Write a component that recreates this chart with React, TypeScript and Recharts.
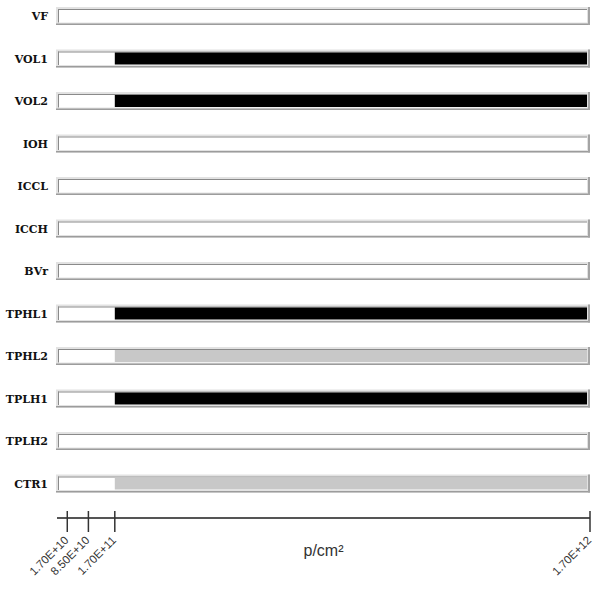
import { Bar, BarChart, Cell, XAxis, YAxis } from "recharts";

// test parameters, top to bottom
const tests = ["VF", "VOL1", "VOL2", "IOH", "ICCL", "ICCH", "BVr", "TPHL1", "TPHL2", "TPLH1", "TPLH2", "CTR1"];

// fluence at which each parameter first went out of spec (null = stayed in spec)
const failOnset = [null, 1.7e11, 1.7e11, null, null, null, null, 1.7e11, 1.7e11, 1.7e11, null, 1.7e11];

// "fail" = hard failure, "drift" = parametric drift
const severity = ["", "fail", "fail", "", "", "", "", "fail", "drift", "fail", "", "drift"];

const maxFluence = 1.7e12;
const fluenceTicks = [1.7e10, 8.5e10, 1.7e11, 1.7e12];

const severityColor: Record<string, string> = { fail: "#000000", drift: "#c8c8c8" };

// stacked: in-spec span first, then the out-of-spec span up to max fluence
const rows = tests.map((name, i) => {
  const pass = failOnset[i] ?? maxFluence;
  return { name, pass, fail: maxFluence - pass, severity: severity[i] };
});

const fmtFluence = (v: number) => {
  const [m, e] = v.toExponential(2).toUpperCase().split("E");
  const exp = Number(e);
  return `${m}E${exp >= 0 ? "+" : "-"}${Math.abs(exp)}`;
};

// inset "progress" track behind each bar
const Track = (props: any) => {
  const { x, y, width, height } = props;
  return (
    <g>
      <rect x={x - 1} y={y} width={width + 1} height={height} fill="#e2e2e2" />
      <rect x={x - 1} y={y + height - 1.5} width={width + 1} height={1.5} fill="#9c9c9c" />
      <rect x={x + width - 2} y={y} width={2} height={height} fill="#a4a4a4" />
      <rect x={x + 1} y={y + 2} width={width - 4} height={height - 4.5} fill="#ffffff" />
      <rect x={x + 1} y={y + 2} width={width - 4} height={1} fill="#8a8a8a" />
      <rect x={x + 1} y={y + 2} width={1} height={height - 4.5} fill="#8a8a8a" />
    </g>
  );
};

const FillShape = (props: any) => {
  const { x, y, width, height, fill } = props;
  if (!width || width <= 0) return null;
  return <rect x={x} y={y + 3} width={width - 3} height={height - 6} fill={fill} />;
};

const TestTick = (props: any) => {
  const { y, payload } = props;
  return (
    <text
      x={48}
      y={y}
      dy={4}
      textAnchor="end"
      fontFamily="'DejaVu Serif', serif"
      fontWeight="bold"
      fontSize={11}
      fill="#111"
    >
      {payload.value}
    </text>
  );
};

const FluenceTick = (props: any) => {
  const { x, y, payload } = props;
  const ay = y - 8; // axis line position
  return (
    <g>
      <line x1={x} x2={x} y1={ay - 7} y2={ay + 14} stroke="#333" strokeWidth={1.5} />
      <text
        x={x + 2}
        y={ay + 23}
        textAnchor="end"
        transform={`rotate(-45 ${x + 2} ${ay + 23})`}
        fontFamily="'Liberation Sans', Arial, sans-serif"
        fontSize={11.5}
        fill="#333"
      >
        {fmtFluence(payload.value)}
      </text>
    </g>
  );
};

export default function App() {
  return (
    <div style={{ position: "absolute", left: 0, top: -5 }}>
      <BarChart
        width={594}
        height={594}
        data={rows}
        layout="vertical"
        margin={{ top: 0, right: 4, bottom: 0, left: 0 }}
      >
        <XAxis
          type="number"
          domain={[0, maxFluence]}
          ticks={fluenceTicks}
          interval={0}
          padding={{ left: 5, right: 0 }}
          height={71}
          tick={<FluenceTick />}
          tickLine={false}
          axisLine={{ stroke: "#555", strokeWidth: 2 }}
          label={{
            value: "p/cm²",
            position: "insideTop",
            dy: 22,
            fontSize: 16,
            fill: "#333",
            fontFamily: "'Liberation Sans', Arial, sans-serif",
          }}
        />
        <YAxis
          type="category"
          dataKey="name"
          width={57}
          padding={{ top: 0, bottom: 13 }}
          tick={<TestTick />}
          tickLine={false}
          axisLine={false}
          interval={0}
        />
        <Bar
          dataKey="pass"
          stackId="fluence"
          barSize={18}
          fill="none"
          background={<Track />}
          isAnimationActive={false}
        />
        <Bar
          dataKey="fail"
          stackId="fluence"
          barSize={18}
          shape={<FillShape />}
          isAnimationActive={false}
        >
          {rows.map((r) => (
            <Cell key={r.name} fill={severityColor[r.severity] ?? "none"} />
          ))}
        </Bar>
      </BarChart>
    </div>
  );
}
